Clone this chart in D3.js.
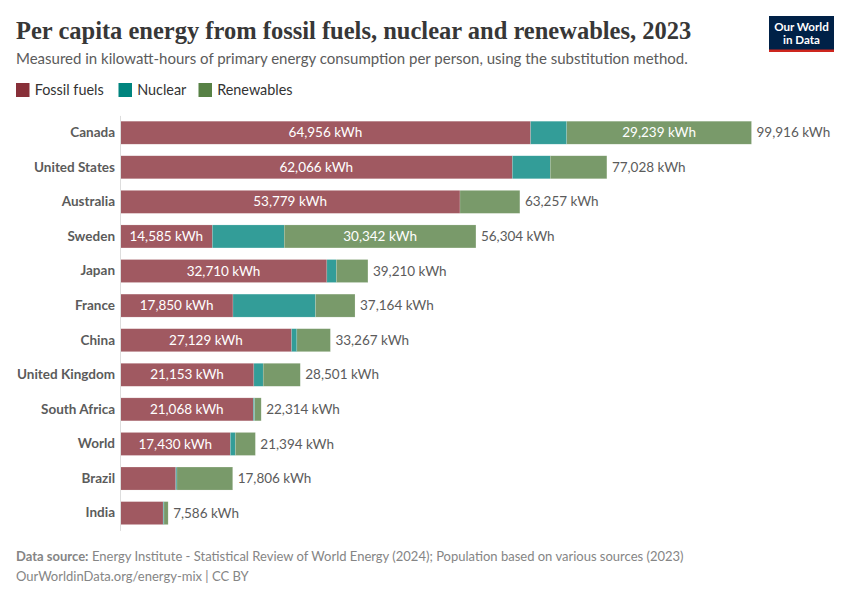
<!DOCTYPE html>
<html><head><meta charset="utf-8">
<script src="https://cdn.jsdelivr.net/npm/d3@7"></script>
<style>html,body{margin:0;padding:0;background:#fff}svg{display:block}text{font-family:Lato,sans-serif}</style>
</head><body><svg id="c" width="850" height="600"></svg>
<script>
const categories=["Canada","United States","Australia","Sweden","Japan","France","China","United Kingdom","South Africa","World","Brazil","India"];
const fossil=[64956,62066,53779,14585,32710,17850,27129,21153,21068,17430,8800,6800];
const nuclear=[5721,6000,0,11377,1500,13060,830,1480,200,800,180,130];
const renewables=[29239,8962,9478,30342,5000,6254,5308,5868,1046,3164,8826,656];
const totals=[99916,77028,63257,56304,39210,37164,33267,28501,22314,21394,17806,7586];
const seriesNames=["Fossil fuels","Nuclear","Renewables"];
const seriesColors=["#883039","#00847e","#578145"];
const labelMin=[14000,Infinity,20000];
const title="Per capita energy from fossil fuels, nuclear and renewables, 2023";
const subtitle="Measured in kilowatt-hours of primary energy consumption per person, using the substitution method.";
const sourceLabel="Data source:";
const sourceText="Energy Institute - Statistical Review of World Energy (2024); Population based on various sources (2023)";
const footerLine="OurWorldinData.org/energy-mix | CC BY";
const logoLines=["Our World","in Data"];

const svg=d3.select("#c");
const fmt=d3.format(",");
const unit=v=>fmt(v)+" kWh";
svg.append("text").attr("x",16).attr("y",38.5).attr("fill","#373737")
  .style("font-family","'Liberation Serif',serif").style("font-weight",700).style("font-size","24.5px").text(title);
svg.append("text").attr("x",16).attr("y",64).attr("fill","#5b5b5b").style("font-size","15px").text(subtitle);

// logo
svg.append("rect").attr("x",769).attr("y",16).attr("width",65).attr("height",36).attr("fill","#002147");
svg.append("rect").attr("x",769).attr("y",49.5).attr("width",65).attr("height",2.5).attr("fill","#ce261e");
logoLines.forEach((t,i)=>svg.append("text").attr("x",801.5).attr("y",30.5+i*13).attr("text-anchor","middle")
  .attr("fill","#fff").style("font-weight",700).style("font-size","11.6px").text(t));

// legend
const legendX=[16,118.5,198.5];
seriesNames.forEach((n,i)=>{
  svg.append("rect").attr("x",legendX[i]).attr("y",83).attr("width",13.5).attr("height",14).attr("fill",seriesColors[i]);
  svg.append("text").attr("x",legendX[i]+18.7).attr("y",95).attr("fill","#333").style("font-size","14.4px").text(n);
});

// chart
const x=d3.scaleLinear().domain([0,99916]).range([120.2,751.5]);
const y=d3.scaleBand().domain(categories).range([115.4,530.4]).paddingInner(0.335).paddingOuter(0.1675);
const series=[fossil,nuclear,renewables];
const g=svg.append("g");
categories.forEach((c,ci)=>{
  let acc=0;
  series.forEach((s,si)=>{
    const v=s[ci];
    if(v>0){
      g.append("rect").attr("x",x(acc)).attr("y",y(c)).attr("width",x(acc+v)-x(acc)).attr("height",y.bandwidth())
        .attr("fill",seriesColors[si]).attr("fill-opacity",0.8).attr("stroke","#fff").attr("stroke-opacity",0.35).attr("stroke-width",0.5);
      if(v>=labelMin[si]){
        g.append("text").attr("x",(x(acc)+x(acc+v))/2).attr("y",y(c)+y.bandwidth()/2+4.6).attr("text-anchor","middle")
          .attr("fill","#fff").style("font-size","13.5px").text(unit(v));
      }
    }
    acc+=v;
  });
  g.append("text").attr("x",x(totals[ci])+5).attr("y",y(c)+y.bandwidth()/2+4.6).attr("fill","#5b5b5b").style("font-size","13.5px").text(unit(totals[ci]));
});
const axis=d3.axisLeft(y).tickSize(0).tickPadding(5);
const ag=svg.append("g").attr("transform","translate(120,0)").call(axis);
ag.select(".domain").attr("stroke","#ddd").attr("stroke-width",1);
ag.selectAll("text").attr("fill","#5b5b5b").style("font-family","Lato,sans-serif").style("font-weight",700).style("font-size","13.5px");

// footer
const f=svg.append("text").attr("x",16).attr("y",561).attr("fill","#858585").style("font-size","13px");
f.append("tspan").style("font-weight",700).text(sourceLabel);
f.append("tspan").attr("dx",3.5).text(sourceText);
svg.append("text").attr("x",16).attr("y",581).attr("fill","#858585").style("font-size","13px").text(footerLine);
</script></body></html>
